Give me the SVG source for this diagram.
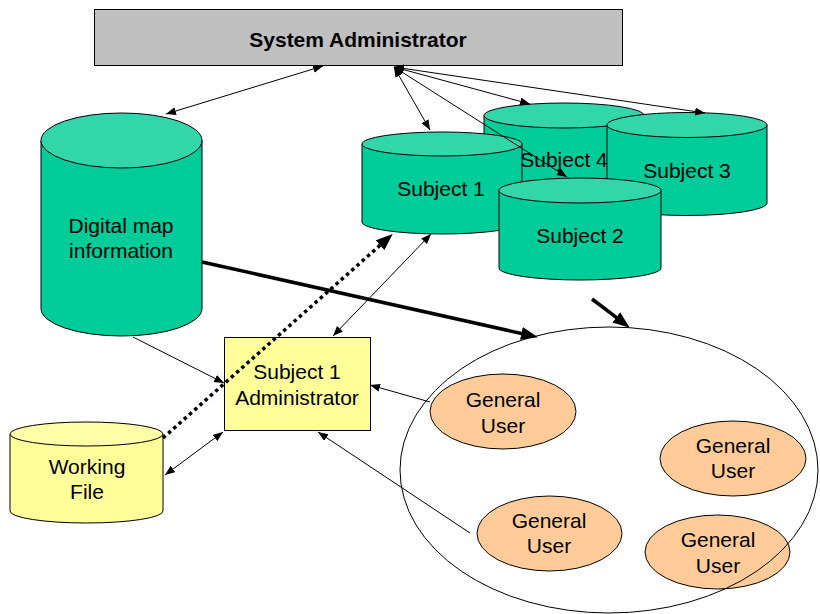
<svg xmlns="http://www.w3.org/2000/svg" width="820" height="614" viewBox="0 0 820 614">
  <defs>
    <marker id="arrow" markerUnits="userSpaceOnUse" markerWidth="11" markerHeight="9" refX="10" refY="4" orient="auto-start-reverse" viewBox="0 0 11 9">
      <path d="M0,0 L10,4 L0,8 z" fill="#000"/>
    </marker>
    <marker id="arrowBold" markerUnits="userSpaceOnUse" markerWidth="18" markerHeight="14" refX="8" refY="6.5" orient="auto" viewBox="0 0 18 14">
      <path d="M0,0 L17,6.5 L0,13 z" fill="#000"/>
    </marker>
  </defs>
  <style>
    text { font-family: "Liberation Sans", Arial, sans-serif; font-size: 21px; fill: #000; text-anchor: middle; }
    .title { font-weight: bold; }
    .edge { stroke: #000; fill: none; stroke-width: 1; }
    .thin { marker-start: url(#arrow); marker-end: url(#arrow); }
    .one { marker-end: url(#arrow); }
    .bold { stroke-width: 3.5; marker-end: url(#arrowBold); }
    .dots { stroke-width: 3.5; stroke-dasharray: 3.5 3.5; marker-end: url(#arrowBold); }
    .outline { stroke: #000; stroke-width: 1; }
    .g-body { fill: #00cc99; }
    .g-top { fill: #33d6aa; }
    .y-body { fill: #ffff99; }
    .y-top { fill: #ffffaa; }
    .user { fill: #ffcc99; stroke: #000; stroke-width: 1; }
  </style>

  <!-- top-level administrator -->
  <g id="system-admin">
    <rect x="94.5" y="9.5" width="528" height="56" fill="#c0c0c0" class="outline"/>
    <text class="title" x="358" y="47">System Administrator</text>
  </g>

  <!-- subject databases (back to front) -->
  <g id="subject-4">
    <path class="g-body outline" d="M484,115.5 V195 A80,12.5 0 0 0 644,195 V115.5"/>
    <ellipse class="g-top outline" cx="564" cy="115.5" rx="80" ry="12.5"/>
    <text x="564" y="167">Subject 4</text>
  </g>
  <g id="subject-3">
    <path class="g-body outline" d="M607,125 V203 A80,12.5 0 0 0 767,203 V125"/>
    <ellipse class="g-top outline" cx="687" cy="125" rx="80" ry="12.5"/>
    <text x="687" y="178">Subject 3</text>
  </g>
  <g id="subject-1">
    <path class="g-body outline" d="M362,144 V222 A80,12 0 0 0 522,222 V144"/>
    <ellipse class="g-top outline" cx="442" cy="144" rx="80" ry="12"/>
    <text x="441" y="196">Subject 1</text>
  </g>
  <g id="subject-2">
    <path class="g-body outline" d="M499,190.5 V268 A81,12 0 0 0 661,268 V190.5"/>
    <ellipse class="g-top outline" cx="580" cy="190.5" rx="81" ry="12.5"/>
    <text x="580" y="243">Subject 2</text>
  </g>

  <!-- map store -->
  <g id="digital-map">
    <path class="g-body outline" d="M41,140.5 V308.5 A80.5,27.5 0 0 0 202,308.5 V140.5"/>
    <ellipse class="g-top outline" cx="121.5" cy="140.5" rx="80.5" ry="27.5"/>
    <text x="121" y="233">Digital map</text>
    <text x="121" y="258">information</text>
  </g>

  <!-- local working copy -->
  <g id="working-file">
    <path class="y-body outline" d="M10,434 V511 A76.5,12 0 0 0 163,511 V434"/>
    <ellipse class="y-top outline" cx="86.5" cy="434" rx="76.5" ry="12"/>
    <text x="87" y="474">Working</text>
    <text x="87" y="499">File</text>
  </g>

  <g id="subject-1-admin">
    <rect x="224.5" y="337.5" width="146" height="93" class="y-body outline"/>
    <text x="297" y="379">Subject 1</text>
    <text x="297" y="405">Administrator</text>
  </g>

  <!-- user community -->
  <g id="user-1">
    <ellipse class="user" cx="503" cy="411.5" rx="73" ry="37.5"/>
    <text x="503" y="407">General</text>
    <text x="503" y="433">User</text>
  </g>
  <g id="user-2">
    <ellipse class="user" cx="733" cy="458.5" rx="73" ry="37.5"/>
    <text x="733" y="453">General</text>
    <text x="733" y="478">User</text>
  </g>
  <g id="user-3">
    <ellipse class="user" cx="549.5" cy="533.5" rx="72.5" ry="37.5"/>
    <text x="549" y="528">General</text>
    <text x="549" y="553">User</text>
  </g>
  <g id="user-4">
    <ellipse class="user" cx="717.5" cy="552" rx="72.5" ry="37"/>
    <text x="718" y="547">General</text>
    <text x="718" y="573">User</text>
  </g>
  <g id="user-group">
    <ellipse cx="609" cy="470" rx="209" ry="143" fill="none" class="outline"/>
  </g>

  <!-- connectors -->
  <g id="connectors">
    <line class="edge thin" x1="166" y1="114" x2="323" y2="66"/>
    <line class="edge thin" x1="394" y1="67" x2="430" y2="130"/>
    <line class="edge thin" x1="394" y1="67" x2="567" y2="177"/>
    <line class="edge thin" x1="394" y1="67" x2="530" y2="104"/>
    <line class="edge thin" x1="394" y1="67" x2="705" y2="113"/>
    <line class="edge one" x1="133" y1="337" x2="224" y2="383"/>
    <line class="edge thin" x1="223" y1="432" x2="165" y2="475"/>
    <line class="edge thin" x1="333" y1="336" x2="431" y2="234"/>
    <line class="edge one" x1="430" y1="402" x2="370" y2="385"/>
    <line class="edge one" x1="470" y1="533" x2="318" y2="432"/>
    <line class="edge dots" x1="163" y1="438" x2="386" y2="240"/>
    <line class="edge bold" x1="202" y1="262" x2="529.2" y2="335.2"/>
    <line class="edge bold" x1="592" y1="299" x2="622.6" y2="322.2"/>
  </g>
</svg>
